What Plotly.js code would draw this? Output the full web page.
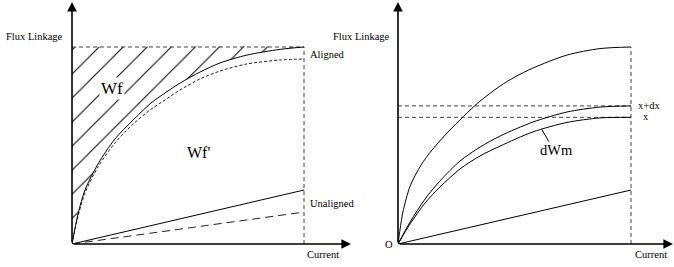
<!DOCTYPE html>
<html><head><meta charset="utf-8">
<script src="https://cdn.plot.ly/plotly-3.0.1.min.js"></script>
<style>html,body{margin:0;padding:0;background:#fff}#chart{width:674px;height:267px}</style>
</head><body><div id="chart"></div>
<script>
// ---------- Left panel: aligned / unaligned flux-linkage curves ----------
const alignedX     = [0, 0.26, 0.56, 1.12, 1.85, 2.59, 3.36, 3.88, 4.66, 5.52, 6.38, 7.54, 8.97, 10];
const alignedY     = [0, 1.52, 2.74, 4.06, 5.33, 6.24, 7.11, 7.56, 8.17, 8.73, 9.19, 9.59, 9.88, 10];
const alignedDashY = [0, 1.42, 2.59, 3.91, 5.13, 6.04, 6.80, 7.21, 7.82, 8.38, 8.78, 9.14, 9.34, 9.39];
const unalignedX     = [0, 10];
const unalignedY     = [0, 2.74];
const unalignedDashY = [0, 1.62];
const currentMax = 10;
const fluxMax = 10;

// ---------- Right panel: curves at positions x and x+dx ----------
const topX  = [0, 0.09, 0.21, 0.52, 0.99, 1.46, 2.23, 3.43, 4.38, 5.02, 5.79, 7.25, 8.67, 10];
const topY  = [0, 0.76, 1.62, 2.94, 4.01, 4.77, 5.79, 7.16, 8.02, 8.48, 8.93, 9.59, 9.92, 10];
const posX  = [0, 0.52, 1.16, 1.80, 2.66, 3.52, 4.38, 5.79, 7.25, 8.67, 10];
const xdxY  = [0, 1.12, 2.28, 3.20, 4.21, 4.92, 5.48, 6.19, 6.70, 6.95, 7.01];
const xY    = [0, 1.02, 2.08, 2.89, 3.81, 4.47, 4.97, 5.69, 6.17, 6.40, 6.43];
const lowX  = [0, 10];
const lowY  = [0, 2.74];
const levelXdx = 7.01;
const levelX   = 6.43;
const leaderX  = [6.17, 6.48];
const leaderY  = [5.82, 5.19];

// ---------- layout geometry (pixels) ----------
const W = 674, H = 267;
const PX = v => v / W, PY = v => 1 - v / H;
const xL0 = 72, xL10 = 304, xLtip = 351;
const xR0 = 398, xR10 = 631, xRtip = 673;
const y0 = 244, y10 = 47, yTip = 2;
const ppuL = (xL10 - xL0) / 10, ppuR = (xR10 - xR0) / 10, ppuY = (y0 - y10) / 10;

const blk = '#000';
const SERIF = '"Liberation Serif", "Times New Roman", serif';
function line(x, y, ax, opts) {
  return Object.assign({
    x: x, y: y, xaxis: ax[0], yaxis: ax[1], type: 'scatter', mode: 'lines',
    line: {color: blk, width: 1}, hoverinfo: 'skip'
  }, opts || {});
}
const L = ['x', 'y'], R = ['x2', 'y2'];
const spl = (w, dash, color) => ({color: color || blk, width: w, shape: 'spline', smoothing: 0.8, dash: dash || 'solid'});

const traces = [
  // hatched Wf region
  line(alignedX.concat([0]), alignedY.concat([fluxMax]), L, {
    fill: 'toself', fillcolor: 'rgba(0,0,0,0)', line: {width: 0, shape: 'spline', smoothing: 0.8},
    fillpattern: {shape: '/', fgcolor: '#000', bgcolor: 'rgba(0,0,0,0)', size: 17, solidity: 0.06}
  }),
  line([0, currentMax], [fluxMax, fluxMax], L, {line: {color: '#444', width: 1, dash: '4px,3px'}}),
  line([currentMax, currentMax], [0, fluxMax], L, {line: {color: '#444', width: 1, dash: '4px,3px'}}),
  line(alignedX, alignedDashY, L, {line: spl(1, '3px,2px', '#222')}),
  line(alignedX, alignedY, L, {line: spl(1)}),
  line(unalignedX, unalignedY, L),
  line(unalignedX, unalignedDashY, L, {line: {color: '#222', width: 1, dash: '8px,5px'}}),

  line([0, currentMax], [levelXdx, levelXdx], R, {line: {color: '#444', width: 1, dash: '4px,3px'}}),
  line([0, currentMax], [levelX, levelX], R, {line: {color: '#444', width: 1, dash: '4px,3px'}}),
  line([currentMax, currentMax], [0, fluxMax], R, {line: {color: '#444', width: 1, dash: '4px,3px'}}),
  line(topX, topY, R, {line: spl(1)}),
  line(posX, xdxY, R, {line: spl(1)}),
  line(posX, xY, R, {line: spl(1)}),
  line(lowX, lowY, R),
  line(leaderX, leaderY, R)
];

function txt(text, x, y, size, xanchor, extra) {
  return Object.assign({text: text, xref: 'paper', yref: 'paper', x: PX(x), y: PY(y),
    xanchor: xanchor || 'left', yanchor: 'middle', showarrow: false,
    font: {family: SERIF, size: size, color: blk}}, extra || {});
}
function arrow(ax, tipX, tipY) {
  return {xref: ax[0], yref: ax[1], axref: ax[0], ayref: ax[1], x: tipX, y: tipY, ax: 0, ay: 0,
    text: '', showarrow: true, arrowhead: 2, arrowsize: 1.2, arrowwidth: 1.6, arrowcolor: blk, standoff: 0, startstandoff: 0};
}
const rangeLX = (xLtip - xL0) / ppuL, rangeRX = (xRtip - xR0) / ppuR, rangeY = (y0 - yTip) / ppuY;

const annotations = [
  arrow(L, rangeLX, 0), arrow(L, 0, rangeY),
  arrow(R, rangeRX, 0), arrow(R, 0, rangeY),
  txt('Flux Linkage', 65, 36, 10.5, 'right'),
  txt('Flux Linkage', 392, 36, 10.5, 'right'),
  txt('Aligned', 308, 54, 10.5),
  txt('Unaligned', 308, 203, 10.5),
  txt('Current', 305, 254, 10.5),
  txt('Current', 633, 254, 10.5),
  txt('O', 389, 244, 10.5, 'center'),
  txt('x+dx', 636, 105, 10.5),
  txt('x', 641, 117, 10.5),
  txt('Wf', 112, 89, 17, 'center', {bgcolor: '#fff', borderpad: 1}),
  txt("Wf'", 198, 152, 16, 'center'),
  txt('dWm', 556, 150, 14.5, 'center')
];

const hide = {visible: false, fixedrange: true};
const layout = {
  width: W, height: H, margin: {l: 0, r: 0, t: 0, b: 0, pad: 0},
  paper_bgcolor: '#fff', plot_bgcolor: 'rgba(0,0,0,0)', showlegend: false,
  xaxis:  Object.assign({domain: [PX(xL0), PX(xLtip)], range: [0, rangeLX]}, hide),
  yaxis:  Object.assign({domain: [PY(y0), PY(yTip)], range: [0, rangeY]}, hide),
  xaxis2: Object.assign({domain: [PX(xR0), PX(xRtip)], range: [0, rangeRX], anchor: 'y2'}, hide),
  yaxis2: Object.assign({domain: [PY(y0), PY(yTip)], range: [0, rangeY], anchor: 'x2'}, hide),
  annotations: annotations
};
Plotly.newPlot('chart', traces, layout, {staticPlot: true, displayModeBar: false});
</script></body></html>
